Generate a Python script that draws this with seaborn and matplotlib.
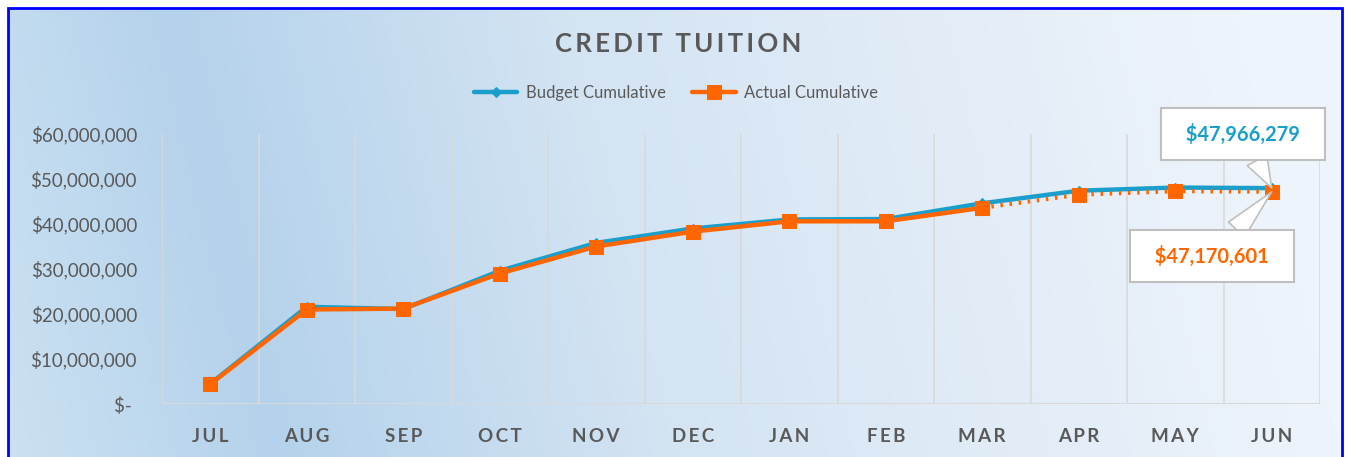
import matplotlib
matplotlib.use('Agg')
import matplotlib.pyplot as plt
from matplotlib.patches import Rectangle
import seaborn as sns
import pandas as pd
import numpy as np

months = ['JUL', 'AUG', 'SEP', 'OCT', 'NOV', 'DEC', 'JAN', 'FEB', 'MAR', 'APR', 'MAY', 'JUN']
budget_cum = [4.5e6, 21.6e6, 21.1e6, 29.6e6, 35.8e6, 39.0e6, 41.0e6, 41.1e6, 44.6e6, 47.4e6, 48.1e6, 47966279]
actual_cum = [4.4e6, 21.0e6, 21.2e6, 29.0e6, 35.0e6, 38.3e6, 40.6e6, 40.6e6, 43.6e6, 46.5e6, 47.3e6, 47170601]
n_solid = 9  # actual drawn solid through MAR, dotted afterwards

y_ticks = [0, 10e6, 20e6, 30e6, 40e6, 50e6, 60e6]
y_labels = ['$- ', '$10,000,000', '$20,000,000', '$30,000,000', '$40,000,000', '$50,000,000', '$60,000,000']

c_budget = '#1a9fcc'
c_actual = '#ff6600'
c_text = '#595959'


def spaced(s):
    # mimic the letter spacing of the original labels
    return '\u2009'.join(s)


sns.set_style('white')
plt.rcParams['font.family'] = ['Lato', 'DejaVu Sans']

W, H = 1347, 457
fig = plt.figure(figsize=(W / 100, H / 100), dpi=100)
fig.patch.set_facecolor('white')

# gradient background inside the blue frame
bg = fig.add_axes([8 / W, 0, (1342 - 8) / W, (H - 8) / H])
xx = np.linspace(0, 1, 400)
yy = np.linspace(0, 1, 100)
X, Y = np.meshgrid(xx, yy)
t = X + 0.08 * Y
stops_t = [0.0, 0.2, 0.5, 1.0]
stops_c = np.array([[204, 225, 242], [180, 210, 235], [212, 228, 243], [238, 244, 251]]) / 255
img = np.stack([np.interp(t, stops_t, stops_c[:, k]) for k in range(3)], axis=-1)
bg.imshow(img, aspect='auto', extent=[0, 1, 0, 1], origin='lower')
bg.set_axis_off()
fig.patches.append(Rectangle((8 / W, -0.05), (1342 - 8) / W, (H - 8) / H + 0.05,
                             transform=fig.transFigure, fill=False, ec='#0000ff', lw=2, zorder=10))

ax = fig.add_axes([162 / W, 1 - 404 / H, (1320 - 162) / W, (404 - 134) / H])
ax.patch.set_alpha(0)

df = pd.DataFrame({'month': months, 'x': np.arange(len(months)),
                   'budget': budget_cum, 'actual': actual_cum})

for i in range(len(months) + 1):
    ax.axvline(i - 0.5, color='#d9d9d9', lw=1.2, zorder=1)
ax.axhline(0, color='#d9d9d9', lw=1.5, zorder=1)

sns.lineplot(data=df, x='x', y='budget', ax=ax, color=c_budget, lw=3.2,
             marker='D', markersize=5, markeredgecolor=c_budget, zorder=3, label='Budget Cumulative')
sns.lineplot(data=df.iloc[:n_solid], x='x', y='actual', ax=ax, color=c_actual, lw=3.2,
             marker='s', markersize=10, markeredgecolor=c_actual, zorder=4, label='Actual Cumulative')
sns.lineplot(data=df.iloc[n_solid - 1:], x='x', y='actual', ax=ax, color=c_actual, lw=3,
             linestyle=(0, (0.6, 1.6)), marker='s', markersize=10, markeredgecolor=c_actual, zorder=4)

ax.set_xlim(-0.5, len(months) - 0.5)
ax.set_ylim(0, 60e6)
ax.set_xticks(df['x'])
ax.set_xticklabels([spaced(m) for m in months], fontsize=13.5, fontweight='bold', color=c_text)
ax.set_yticks(y_ticks)
ax.set_yticklabels(y_labels, fontsize=13.5, color=c_text)
ax.tick_params(axis='x', length=0, pad=17)
ax.tick_params(axis='y', length=0, pad=18)
ax.set_xlabel('')
ax.set_ylabel('')
sns.despine(ax=ax, left=True, bottom=True)

leg = ax.legend(loc='center', bbox_to_anchor=(676 / W, 1 - 93 / H), bbox_transform=fig.transFigure,
                ncol=2, frameon=False, fontsize=12, handlelength=2.6, columnspacing=1.6, handletextpad=0.5)
for txt in leg.get_texts():
    txt.set_color(c_text)
for h in leg.legend_handles:
    h.set_linestyle('-')

fig.text(678 / W, 1 - 44 / H, '\u2009 \u2009'.join(spaced(w) for w in ['CREDIT', 'TUITION']),
         ha='center', va='center', fontsize=18.5, fontweight='bold', color=c_text)

last = len(months) - 1
box = dict(boxstyle='square,pad=0.75', fc='white', ec='#bfbfbf', lw=1.5)
arrow = dict(arrowstyle='wedge,tail_width=1.1,shrink_factor=0.5', fc='white', ec='#bfbfbf', lw=1.2,
             shrinkA=0, shrinkB=0)
ax.annotate(f'  ${budget_cum[-1]:,.0f}  ', xy=(last, budget_cum[-1]), xytext=(1243, H - 134),
            textcoords='figure pixels', ha='center', va='center', fontsize=14.5, fontweight='bold',
            color=c_budget, bbox=box, arrowprops=arrow, zorder=6, annotation_clip=False)
ax.annotate(f'  ${actual_cum[-1]:,.0f}  ', xy=(last, actual_cum[-1]), xytext=(1212, H - 256),
            textcoords='figure pixels', ha='center', va='center', fontsize=14.5, fontweight='bold',
            color=c_actual, bbox=box, arrowprops=arrow, zorder=6, annotation_clip=False)

fig.savefig('out.png', dpi=100)
